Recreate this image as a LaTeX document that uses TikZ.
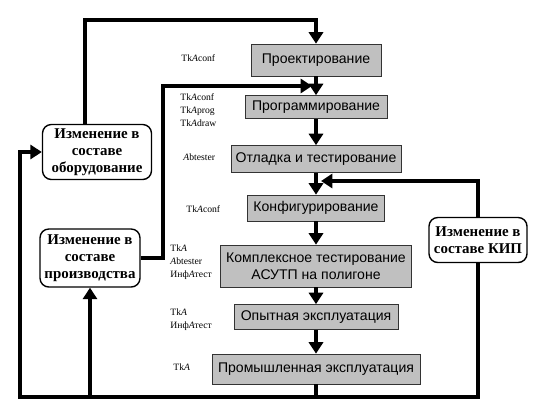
\documentclass[tikz,border=0pt]{standalone}
\usepackage{fontspec}
\setmainfont{Liberation Serif}
\setsansfont{Liberation Sans}
\usetikzlibrary{arrows.meta, calc}
\definecolor{stagegray}{RGB}{192,192,192}
\tikzset{
  stage/.style={draw=black!80, fill=stagegray, font=\sffamily\fontsize{8}{9.5}\selectfont, align=center, inner sep=0pt},
  change/.style={draw, thick, rounded corners=5pt, font=\bfseries\fontsize{8.5}{9.8}\selectfont, align=center, inner sep=0pt},
  tool/.style={anchor=west, font=\fontsize{5.5}{7.4}\selectfont, align=left, inner sep=0pt},
  flow/.style={line width=2.3pt, -{Triangle[length=6.5pt,width=8pt]}},
  back/.style={line width=2.3pt},
}
\begin{document}
\begin{tikzpicture}[x=0.02cm, y=-0.02cm]
    \useasboundingbox (0,0) rectangle (547,416);

    % stages
    \node[stage, minimum width=2.6cm, minimum height=0.64cm] (proj) at (316,60) {Проектирование};
    \node[stage, minimum width=2.84cm, minimum height=0.46cm] (prog) at (316,107) {Программирование};
    \node[stage, minimum width=3.4cm, minimum height=0.54cm] (otl) at (316,159) {Отладка и тестирование};
    \node[stage, minimum width=2.74cm, minimum height=0.52cm] (konf) at (316,208) {Конфигурирование};
    \node[stage, minimum width=3.82cm, minimum height=0.84cm] (kompl) at (316,266) {Комплексное тестирование\\АСУТП на полигоне};
    \node[stage, minimum width=3.28cm, minimum height=0.5cm] (opyt) at (316,317) {Опытная эксплуатация};
    \node[stage, minimum width=4.16cm, minimum height=0.6cm] (prom) at (316,369) {Промышленная эксплуатация};

    % changes
    \node[change, minimum width=2.18cm, minimum height=1.1cm] (obor) at (97,152) {Изменение в\\составе\\оборудование};
    \node[change, minimum width=2.0cm, minimum height=1.16cm] (proizv) at (90,258) {Изменение в\\составе\\производства};
    \node[change, minimum width=1.96cm, minimum height=0.9cm] (kip) at (478,240) {Изменение в\\составе КИП};

    % tools
    \node[tool] (tproj) at (181,58) {Tk\textit{A}conf};
    \node[tool] (tprog) at (180,110) {Tk\textit{A}conf\\Tk\textit{A}prog\\Tk\textit{A}draw};
    \node[tool] (totl) at (183,157) {\textit{A}btester};
    \node[tool] (tkonf) at (186,209) {Tk\textit{A}conf};
    \node[tool] (tkompl) at (170,262) {Tk\textit{A}\\\textit{A}btester\\Инф\textit{A}тест};
    \node[tool] (topyt) at (170,320) {Tk\textit{A}\\Инф\textit{A}тест};
    \node[tool] (tprom) at (173,367) {Tk\textit{A}};

    % main chain
    \draw[flow] (proj) -- (prog);
    \draw[flow] (prog) -- (otl);
    \draw[flow] (otl) -- (konf);
    \draw[flow] (konf) -- (kompl);
    \draw[flow] (kompl) -- (opyt);
    \draw[flow] (opyt) -- (prom);

    % feedback
    \coordinate (up1) at (85,20);
    \coordinate (up2) at (163,86);
    \coordinate (in2) at (312,86);
    \coordinate (in3) at (321,181);
    \coordinate (bl) at (20,397);
    \draw[flow] (obor.north -| up1) -- (up1) -| (proj.north);
    \draw[flow] (proizv.east) -| (up2) -- (in2);
    \draw[flow] (kip.north) |- (in3);
    \draw[back] (prom.south) -- (prom.south |- bl);
    \draw[flow] (kip.south) -- (kip.south |- bl) -- (bl) |- (obor.west);
    \draw[flow] (proizv.south |- bl) -- (proizv.south);
\end{tikzpicture}
\end{document}
